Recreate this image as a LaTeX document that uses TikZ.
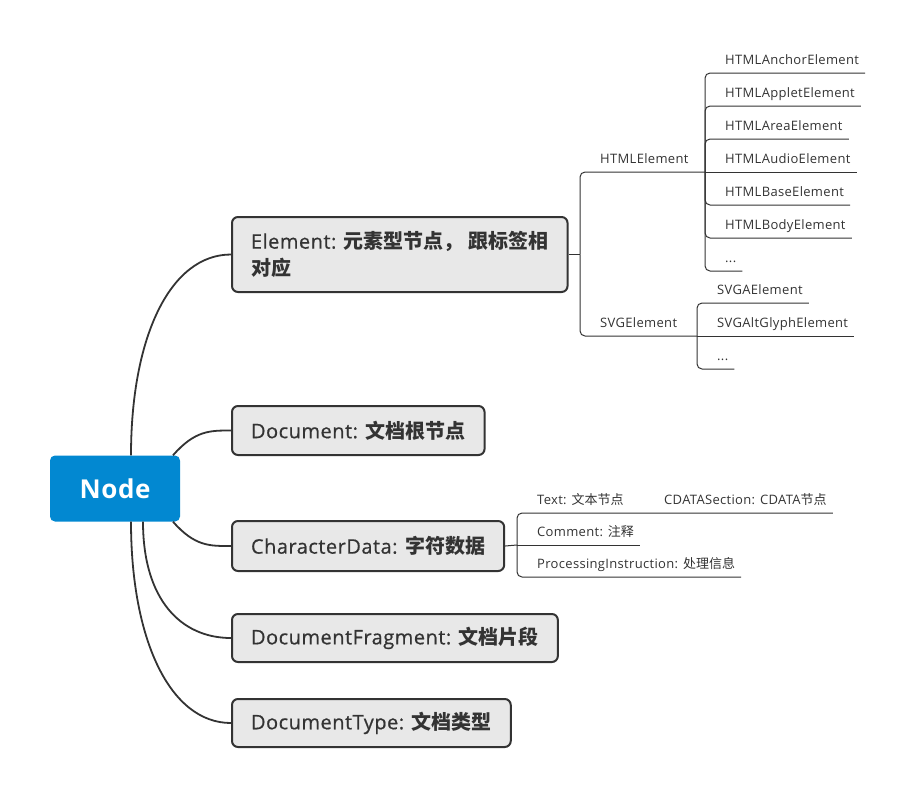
\documentclass[tikz,border=0pt]{standalone}
\usepackage{fontspec}
\setmainfont{Open Sans}[LetterSpace=2.5]
\newfontfamily\topicfont{Open Sans}[LetterSpace=2.5, FakeBold=0.6]
\newfontfamily\cjk{Noto Sans CJK SC}
\usetikzlibrary{positioning}

\definecolor{nodeblue}{HTML}{0288D1}
\definecolor{topicgray}{HTML}{E8E8E8}
\definecolor{linedark}{HTML}{333333}

\tikzset{
	root/.style={rectangle, rounded corners=5, fill=nodeblue, text=white, minimum width=130, minimum height=66, inner sep=0, font=\fontsize{26}{30}\selectfont\bfseries},
	topic/.style={rectangle, draw=linedark, line width=2, rounded corners=6, fill=topicgray, text=linedark, anchor=west, align=left, inner xsep=19, inner ysep=0, font=\fontsize{20}{27}\selectfont\topicfont},
	leaf/.style={anchor=south west, inner xsep=6, inner ysep=5.5, text height=9.5, text depth=2.5, text=linedark, font=\fontsize{13}{15}\selectfont},
	branch/.style={draw=linedark, line width=1.8},
	twig/.style={draw=linedark, line width=1, rounded corners=5},
}

\begin{document}
\begin{tikzpicture}[x=1pt, y=-1pt]
	\useasboundingbox (0,0) rectangle (912,798);

	\node[root] (root) at (115,488.5) {Node};

	\node[topic, minimum height=75] (elem) at (231,254.5) {Element: {\cjk\bfseries 元素型节点， 跟标签相}\\{\cjk\bfseries 对应}};
	\node[topic, minimum height=49] (doc) at (231,430.5) {Document: {\cjk\bfseries 文档根节点}};
	\node[topic, minimum height=50] (cd) at (231,546) {CharacterData: {\cjk\bfseries 字符数据}};
	\node[topic, minimum height=48] (frag) at (231,638) {DocumentFragment: {\cjk\bfseries 文档片段}};
	\node[topic, minimum height=48] (dtype) at (231,723) {DocumentType: {\cjk\bfseries 文档类型}};

	\draw[branch] ([xshift=16]root.north) .. controls +(0,-118) and +(-61,0) .. (elem.west);
	\draw[branch] ([xshift=58]root.north) .. controls +(22,-25) and +(-21,0) .. (doc.west);
	\draw[branch] ([xshift=58]root.south) .. controls +(22,25) and +(-21,0) .. (cd.west);
	\draw[branch] ([xshift=28]root.south) .. controls +(0,78) and +(-50,0) .. (frag.west);
	\draw[branch] ([xshift=16]root.south) .. controls +(0,118) and +(-61,0) .. (dtype.west);

	\node[leaf] (html) at (594,172) {HTMLElement};
	\node[leaf] (svg) at (594,336) {SVGElement};

	\node[leaf] (anchor) at (719,73) {HTMLAnchorElement};
	\node[leaf] (applet) at (719,106) {HTMLAppletElement};
	\node[leaf] (area) at (719,139) {HTMLAreaElement};
	\node[leaf] (audio) at (719,172) {HTMLAudioElement};
	\node[leaf] (base) at (719,205) {HTMLBaseElement};
	\node[leaf] (body) at (719,238) {HTMLBodyElement};
	\node[leaf] (hdots) at (719,271) {...};

	\node[leaf] (svga) at (711,303) {SVGAElement};
	\node[leaf] (glyph) at (711,336) {SVGAltGlyphElement};
	\node[leaf] (sdots) at (711,369) {...};

	\node[leaf] (txt) at (531,513) {Text: {\cjk 文本节点}};
	\node[leaf] (cds) at (658,513) {CDATASection: CDATA{\cjk 节点}};
	\node[leaf] (cmt) at (531,545) {Comment: {\cjk 注释}};
	\node[leaf] (pi) at (531,577) {ProcessingInstruction: {\cjk 处理信息}};

	\coordinate (ej) at (580,254.5);
	\coordinate (hb) at (705,172);
	\coordinate (sb) at (697,336);
	\coordinate (cj) at (517,545);

	\draw[twig] (elem.east) -- (ej);
	\draw[twig] (ej) |- (hb);
	\draw[twig] (ej) |- (sb);

	\draw[twig] (hb) |- (anchor.south east);
	\draw[twig] (hb) |- (applet.south east);
	\draw[twig] (hb) |- (area.south east);
	\draw[twig] (hb) -- (audio.south east);
	\draw[twig] (hb) |- (base.south east);
	\draw[twig] (hb) |- (body.south east);
	\draw[twig] (hb) |- (hdots.south east);

	\draw[twig] (sb) |- (svga.south east);
	\draw[twig] (sb) -- (glyph.south east);
	\draw[twig] (sb) |- (sdots.south east);

	\draw[twig] (cd.east) -- (cj);
	\draw[twig] (cj) |- (txt.south east) -- (cds.south east);
	\draw[twig] (cj) -- (cmt.south east);
	\draw[twig] (cj) |- (pi.south east);
\end{tikzpicture}
\end{document}
